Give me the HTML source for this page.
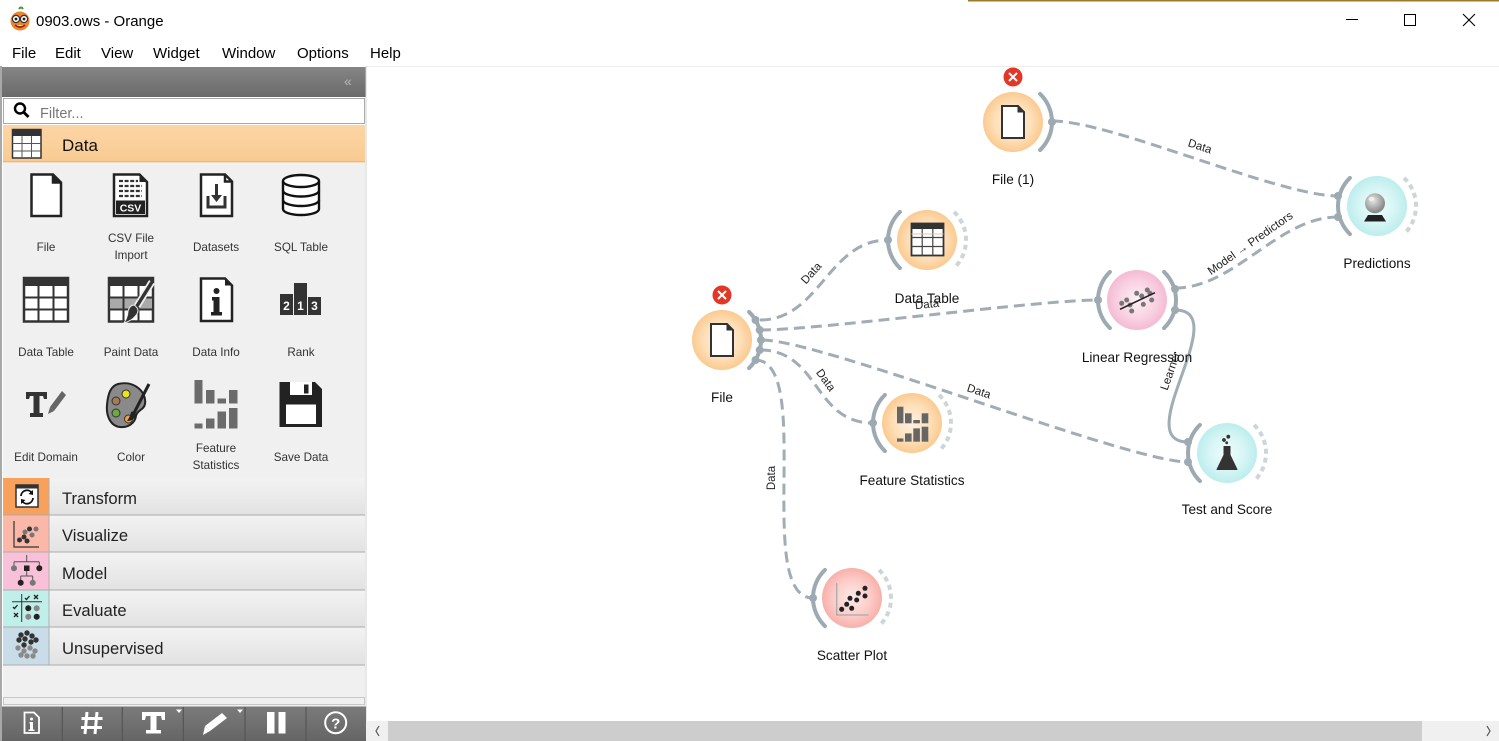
<!DOCTYPE html>
<html><head><meta charset="utf-8">
<style>
html,body{margin:0;padding:0;background:#fff;}
body{width:1499px;height:741px;overflow:hidden;position:relative;font-family:"Liberation Sans",sans-serif;}
svg{position:absolute;left:0;top:0;}
</style></head><body>
<svg width="1499" height="741" viewBox="0 0 1499 741" xmlns="http://www.w3.org/2000/svg" font-family="Liberation Sans, sans-serif">
<defs>
<radialGradient id="gD" cx="50%" cy="50%" r="50%"><stop offset="0" stop-color="#fff1e0"/><stop offset="0.6" stop-color="#fee0ba"/><stop offset="1" stop-color="#fbca90"/></radialGradient>
<radialGradient id="gV" cx="50%" cy="50%" r="50%"><stop offset="0" stop-color="#fdeae8"/><stop offset="0.6" stop-color="#fccdc9"/><stop offset="1" stop-color="#f8b0aa"/></radialGradient>
<radialGradient id="gM" cx="50%" cy="50%" r="50%"><stop offset="0" stop-color="#fdf0f6"/><stop offset="0.6" stop-color="#f9d3e3"/><stop offset="1" stop-color="#f4bbd3"/></radialGradient>
<radialGradient id="gE" cx="50%" cy="50%" r="50%"><stop offset="0" stop-color="#f1fcfc"/><stop offset="0.6" stop-color="#d6f5f5"/><stop offset="1" stop-color="#bdeded"/></radialGradient>
<radialGradient id="gBall" cx="40%" cy="35%" r="60%"><stop offset="0" stop-color="#e8e8e8"/><stop offset="1" stop-color="#8a8a8a"/></radialGradient>
<linearGradient id="gHead" x1="0" y1="0" x2="0" y2="1"><stop offset="0" stop-color="#858585"/><stop offset="1" stop-color="#6a6a6a"/></linearGradient>
<linearGradient id="gRow" x1="0" y1="0" x2="0" y2="1"><stop offset="0" stop-color="#f3f3f3"/><stop offset="1" stop-color="#e2e2e2"/></linearGradient>
<linearGradient id="gTool" x1="0" y1="0" x2="0" y2="1"><stop offset="0" stop-color="#7b7b7b"/><stop offset="1" stop-color="#656565"/></linearGradient>
<linearGradient id="gData" x1="0" y1="0" x2="0" y2="1"><stop offset="0" stop-color="#fdd5a4"/><stop offset="1" stop-color="#f9cb93"/></linearGradient>
</defs>

<!-- title bar -->
<rect x="0" y="0" width="1499" height="66" fill="#fff"/>
<rect x="968" y="0" width="531" height="1.5" fill="#9c7a2a"/>
<g>
<path d="M19,9 q2,-3 4,0" stroke="#3a9a3a" stroke-width="2" fill="none"/>
<circle cx="20" cy="21" r="9.5" fill="#f0842a"/>
<circle cx="16" cy="19" r="3.6" fill="#fff" stroke="#333" stroke-width="1.2"/>
<circle cx="24" cy="19" r="3.6" fill="#fff" stroke="#333" stroke-width="1.2"/>
<circle cx="16" cy="19" r="1.4" fill="#222"/><circle cx="24" cy="19" r="1.4" fill="#222"/>
<path d="M15,25 q5,4 10,0" stroke="#8a2a10" stroke-width="1.6" fill="#fff"/>
</g>
<text x="36" y="26" font-size="15" fill="#000">0903.ows - Orange</text>
<line x1="1346" y1="19.5" x2="1358" y2="19.5" stroke="#000" stroke-width="1"/>
<rect x="1404.5" y="14.5" width="11" height="11" fill="none" stroke="#000" stroke-width="1"/>
<path d="M1463,14 L1475,26 M1475,14 L1463,26" stroke="#000" stroke-width="1.1"/>
<g font-size="15" fill="#000">
<text x="12" y="58">File</text><text x="55" y="58">Edit</text><text x="101" y="58">View</text><text x="153" y="58">Widget</text><text x="222" y="58">Window</text><text x="297" y="58">Options</text><text x="370" y="58">Help</text>
</g>
<rect x="366" y="66" width="1133" height="1" fill="#ececec"/>

<!-- left panel -->
<rect x="0" y="66" width="2" height="675" fill="#a8a8a8"/>
<rect x="2" y="67" width="364" height="30" fill="url(#gHead)"/>
<text x="344" y="86" font-size="14" fill="#b8b8b8">«</text>
<rect x="3.5" y="98.5" width="361" height="25" fill="#fff" stroke="#a9a9a9" stroke-width="1"/>
<circle cx="20" cy="108.5" r="5" fill="none" stroke="#000" stroke-width="2.4"/>
<line x1="23.5" y1="112" x2="28.5" y2="117" stroke="#000" stroke-width="2.8"/>
<text x="40" y="118" font-size="14.5" fill="#777">Filter...</text>
<rect x="3" y="125" width="362" height="37" fill="url(#gData)"/>
<rect x="3" y="161" width="362" height="1.5" fill="#e6b886"/>
<g>
<rect x="12.5" y="129.5" width="28.5" height="28.5" fill="#fff" stroke="#333" stroke-width="1.5"/>
<rect x="12" y="129" width="29.5" height="7" fill="#333"/>
<path d="M22,136 V158 M31.5,136 V158 M12.5,143.5 H41 M12.5,151 H41" stroke="#555" stroke-width="1"/>
</g>
<text x="62" y="151" font-size="17" fill="#111">Data</text>
<rect x="3" y="163" width="362" height="315" fill="#f0f0f0"/>

<!-- panel widgets row 1 -->
<g stroke="#222" stroke-width="2.5" fill="#fff" stroke-linejoin="miter">
<path d="M31.5,174.5 H53 L61,182.5 V216 H31.5 Z"/>
<path d="M53,174.5 V182.5 H61" fill="none"/>
<path d="M114,174.5 H139.5 L147,182 V216 H114 Z"/>
<path d="M201,174.5 H225 L232,181.5 V216 H201 Z"/>
<path d="M225,174.5 V181.5 H232" fill="none"/>
</g>
<path d="M53,174.5 L61,182.5 L53,182.5Z" fill="#222"/>
<path d="M139.5,174.5 L147,182 L139.5,182Z" fill="#222"/>
<g stroke="#333" stroke-width="2.3" stroke-dasharray="4 1.6">
<line x1="119" y1="181" x2="138" y2="181"/><line x1="119" y1="186" x2="142" y2="186"/><line x1="119" y1="191" x2="142" y2="191"/><line x1="119" y1="196" x2="142" y2="196"/>
</g>
<rect x="116" y="200.5" width="29" height="13.5" fill="#222"/>
<text x="130.5" y="211.5" font-size="10.5" font-weight="bold" fill="#fff" text-anchor="middle">CSV</text>
<path d="M208,196 V207 H225 V196" stroke="#333" stroke-width="3" fill="none"/>
<line x1="216.5" y1="184" x2="216.5" y2="197" stroke="#333" stroke-width="3"/>
<path d="M211,195 H222 L216.5,202 Z" fill="#333"/>
<g stroke="#111" stroke-width="2.4" fill="#fff">
<path d="M283,181 V209 A18,6 0 0 0 319,209 V181"/>
<ellipse cx="301" cy="181" rx="18" ry="6"/>
<path d="M283,190.5 A18,6 0 0 0 319,190.5 M283,200 A18,6 0 0 0 319,200" fill="none"/>
</g>
<g font-size="11.7" fill="#333" text-anchor="middle">
<text x="46" y="251">File</text>
<text x="131" y="242">CSV File</text><text x="131" y="259">Import</text>
<text x="216" y="251">Datasets</text>
<text x="301" y="251">SQL Table</text>
<text x="46" y="356">Data Table</text>
<text x="131" y="356">Paint Data</text>
<text x="216" y="356">Data Info</text>
<text x="301" y="356">Rank</text>
<text x="46" y="461">Edit Domain</text>
<text x="131" y="461">Color</text>
<text x="216" y="452">Feature</text><text x="216" y="469">Statistics</text>
<text x="301" y="461">Save Data</text>
</g>
<!-- row 2 -->
<g>
<rect x="24" y="278" width="44" height="43.5" fill="#fff" stroke="#333" stroke-width="2.5"/>
<rect x="23" y="277" width="46" height="9" fill="#333"/>
<path d="M38.5,285 V321 M53.5,285 V321 M24,297.5 H68 M24,309.5 H68" stroke="#333" stroke-width="2"/>
<rect x="109" y="278" width="44" height="43.5" fill="#fff" stroke="#333" stroke-width="2.5"/>
<rect x="108" y="277" width="46" height="9" fill="#333"/>
<rect x="110" y="298" width="42" height="11" fill="#aaa"/>
<path d="M123.5,285 V321 M138.5,285 V321 M109,297.5 H153 M109,309.5 H153" stroke="#333" stroke-width="2"/>
<line x1="152" y1="282" x2="137" y2="306" stroke="#f0f0f0" stroke-width="7"/>
<line x1="152" y1="282" x2="137" y2="306" stroke="#333" stroke-width="3.5" stroke-linecap="round"/>
<path d="M134,305 Q140,309 137,314 Q132,321 124,323 Q128,317 128,311 Q130,305 134,305Z" fill="#333" stroke="#f0f0f0" stroke-width="1"/>
<path d="M201,278.5 H225 L232,285.5 V321 H201 Z" fill="#fff" stroke="#222" stroke-width="2.5"/>
<path d="M225,278.5 L232,285.5 L225,285.5Z" fill="#222"/>
<circle cx="216.5" cy="291" r="3" fill="#222"/>
<path d="M212,297 H219.5 V312 H222 V315.5 H211 V312 H213.5 V300.5 H212 Z" fill="#222"/>
<rect x="280" y="294" width="13" height="21" fill="#333"/>
<rect x="294" y="283" width="13" height="32" fill="#333"/>
<rect x="308" y="297" width="13" height="18" fill="#333"/>
<g font-size="12" font-weight="bold" fill="#fff" text-anchor="middle">
<text x="286.5" y="310">2</text><text x="300.5" y="310">1</text><text x="314.5" y="310">3</text>
</g>
</g>
<!-- row 3 -->
<g>
<path d="M26,392 H47 V399 H44 L43,396 H39.5 V413 H43 V417 H30 V413 H33.5 V396 H30 L29,399 H26 Z" fill="#333"/>
<path d="M62,391 L66,395 L54,411 L50,407 Z" fill="#666"/>
<path d="M50,407 L54,411 L48,414 Z" fill="#666"/>
<path d="M118,384 C134,380 147,392 145,404 C144,410 137,410 136,416 C135,423 128,428 120,427 C110,426 106,415 107,405 C108,393 111,386 118,384Z" fill="#8a8a8a" stroke="#222" stroke-width="2"/>
<circle cx="126" cy="394" r="4" fill="#eee21a" stroke="#333" stroke-width="1"/>
<circle cx="116" cy="401" r="4" fill="#a57a55" stroke="#333" stroke-width="1"/>
<circle cx="116" cy="413" r="4" fill="#6aaa44" stroke="#333" stroke-width="1"/>
<circle cx="128.5" cy="419" r="4" fill="#f4a23a" stroke="#333" stroke-width="1"/>
<line x1="149" y1="384" x2="134" y2="413" stroke="#222" stroke-width="3"/>
<path d="M131,412 Q136,410 136,416 Q133,421 127,421 Q130,417 131,412Z" fill="#222"/>
<g fill="#6b6b6b">
<rect x="194.5" y="380" width="8" height="23.5"/><rect x="206" y="390" width="8.5" height="13.5"/><rect x="217.5" y="398.5" width="8.5" height="5"/><rect x="229" y="390" width="8.5" height="13.5"/>
<rect x="194.5" y="423.5" width="8" height="5"/><rect x="206" y="418.5" width="8.5" height="10"/><rect x="217.5" y="411.5" width="8.5" height="17"/><rect x="229" y="408" width="8.5" height="20.5"/>
</g>
<path d="M279.5,382 H315 L322,389 V427 H279.5 Z" fill="#222"/>
<rect x="290" y="382" width="22" height="13" fill="#fff"/>
<rect x="304" y="384.5" width="4.5" height="9" fill="#222"/>
<rect x="286" y="404.5" width="30" height="19.5" fill="#fff"/>
</g>

<!-- categories -->
<g>
<rect x="3" y="478" width="46" height="37" fill="#f7a15c"/>
<rect x="49" y="478" width="316" height="37" fill="url(#gRow)"/>
<rect x="3" y="515" width="46" height="37" fill="#fbb8a8"/>
<rect x="49" y="515" width="316" height="37" fill="url(#gRow)"/>
<rect x="3" y="552" width="46" height="38" fill="#f8c1d9"/>
<rect x="49" y="552" width="316" height="38" fill="url(#gRow)"/>
<rect x="3" y="590" width="46" height="37" fill="#c0efea"/>
<rect x="49" y="590" width="316" height="37" fill="url(#gRow)"/>
<rect x="3" y="627" width="46" height="38" fill="#c9dde9"/>
<rect x="49" y="627" width="316" height="38" fill="url(#gRow)"/>
<path d="M3,515 H365 M3,552 H365 M3,590 H365 M3,627 H365 M3,665 H365" stroke="#ababab" stroke-width="1"/>
<path d="M49,478 V665" stroke="#b0b0b0" stroke-width="1"/>
<g font-size="16.6" fill="#222">
<text x="62" y="504">Transform</text><text x="62" y="541">Visualize</text><text x="62" y="579">Model</text><text x="62" y="616">Evaluate</text><text x="62" y="654">Unsupervised</text>
</g>
<!-- transform icon -->
<rect x="16" y="485" width="22" height="22" fill="#fff" stroke="#333" stroke-width="1.5"/>
<rect x="15.5" y="484.5" width="23" height="4" fill="#333"/>
<path d="M21,496 A6,6 0 0 1 32,493" stroke="#111" stroke-width="1.8" fill="none"/>
<path d="M33,490 L33,495 L28.5,494Z" fill="#111"/>
<path d="M33,498 A6,6 0 0 1 22,501" stroke="#111" stroke-width="1.8" fill="none"/>
<path d="M21,504 L21,499 L25.5,500Z" fill="#111"/>
<!-- visualize icon -->
<path d="M14,521 V547 H39" stroke="#333" stroke-width="1.2" fill="none"/>
<g fill="#333"><circle cx="19.5" cy="540" r="2.5"/><circle cx="24" cy="537" r="2.5"/><circle cx="27" cy="541" r="2.5"/><circle cx="29.5" cy="529" r="2.5"/></g>
<g fill="#777"><circle cx="32" cy="535" r="2.5"/><circle cx="36" cy="529" r="2.5"/><circle cx="25" cy="532" r="2.5"/></g>
<!-- model icon -->
<path d="M26.7,555 V561.7 M14,561.7 H39.3 M14,561.7 V566 M39.3,561.7 V566 M26.7,568 V576 M20.7,576 H32.7 M20.7,576 V580 M32.7,576 V580" stroke="#555" stroke-width="1"/>
<circle cx="14" cy="568.3" r="3" fill="#777"/><rect x="24" y="565.5" width="5.5" height="5.5" fill="#222"/><circle cx="39.3" cy="568.3" r="3" fill="#222"/>
<circle cx="20.7" cy="582.7" r="3" fill="#222"/><circle cx="32.7" cy="582.7" r="3" fill="#777"/>
<!-- evaluate icon -->
<path d="M21.7,594 V622 M12,601.7 H42" stroke="#333" stroke-width="1"/>
<path d="M25,598 l1.5,1.5 l3,-3.5" stroke="#222" stroke-width="1.3" fill="none"/>
<path d="M34,595 l4,4 M38,595 l-4,4" stroke="#222" stroke-width="1.3"/>
<path d="M13,607 l1.5,1.5 l3,-3.5" stroke="#222" stroke-width="1.3" fill="none"/>
<path d="M14,613 l4,4 M18,613 l-4,4" stroke="#222" stroke-width="1.3"/>
<circle cx="28.3" cy="608.3" r="3" fill="#222"/><circle cx="36.7" cy="608.3" r="3" fill="#888"/><circle cx="28.3" cy="616.7" r="3" fill="#888"/><circle cx="36.7" cy="616.7" r="3" fill="#222"/>
<!-- unsupervised icon -->
<g fill="#333"><circle cx="21" cy="635" r="2.7"/><circle cx="27" cy="633" r="2.7"/><circle cx="32" cy="636" r="2.7"/><circle cx="19" cy="640" r="2.7"/><circle cx="25" cy="639" r="2.7"/><circle cx="31" cy="642" r="2.7"/><circle cx="36" cy="640" r="2.7"/><circle cx="24" cy="645" r="2.7"/></g>
<g fill="#8a8a8a"><circle cx="18" cy="648" r="2.7"/><circle cx="24" cy="651" r="2.7"/><circle cx="30" cy="648" r="2.7"/><circle cx="35" cy="651" r="2.7"/><circle cx="21" cy="655" r="2.7"/><circle cx="27" cy="656" r="2.7"/><circle cx="33" cy="656" r="2.7"/></g>
</g>
<rect x="3" y="665.5" width="362" height="41" fill="#f0f0f0"/>
<rect x="3.5" y="697.5" width="361" height="7" fill="#f0f0f0" stroke="#c8c8c8" stroke-width="1"/>
<rect x="365.5" y="66" width="1" height="656" fill="#d0d0d0"/>

<!-- bottom toolbar -->
<rect x="2" y="706.5" width="364" height="34.5" fill="url(#gTool)"/>
<path d="M62.3,707 V741 M122.3,707 V741 M183.3,707 V741 M245,707 V741 M306,707 V741" stroke="#555" stroke-width="1.2"/>
<g fill="#fff" stroke="#fff">
<path d="M24.5,712.5 H34 L39,717.5 V733 H24.5 Z" fill="none" stroke-width="1.8"/>
<circle cx="31.5" cy="719" r="1.5" stroke="none"/>
<path d="M29.5,722 H33 V729.5 H34.5 V731 H28.5 V729.5 H30 V723.5 H29.5Z" stroke="none"/>
<path d="M87,712 L85,734 M97,712 L95,734 M81.5,718.5 H102.5 M81,727.5 H102" fill="none" stroke-width="3"/>
<path d="M142,712 H165 V720 H162 L161,716 H156.5 V730 H161 V733.5 H146 V730 H150.5 V716 H146 L145,720 H142 Z" stroke="none"/>
<path d="M176,709.5 H182 L179,713Z" stroke="none"/>
<path d="M222,713 L227,718 L210,731 L205,726 Z" stroke="none"/>
<path d="M205,726 L210,731 L203,735 Z" stroke="none"/>
<path d="M237,709.5 H243 L240,713Z" stroke="none"/>
<rect x="267" y="712" width="7.5" height="21.5" stroke="none"/><rect x="278.5" y="712" width="7" height="21.5" stroke="none"/>
<circle cx="335.7" cy="722.7" r="10.5" fill="none" stroke-width="2"/>
</g>
<text x="335.7" y="728.5" font-size="15" font-weight="bold" fill="#fff" text-anchor="middle">?</text>

<!-- canvas scrollbar -->
<rect x="366" y="721" width="1133" height="20" fill="#f0f0f0"/>
<rect x="388" y="721" width="1034" height="20" fill="#cdcdcd"/>
<path d="M379,726 L376,731 L379,736" stroke="#555" stroke-width="1.2" fill="none"/>
<path d="M1487,726 L1490,731 L1487,736" stroke="#555" stroke-width="1.2" fill="none"/>

<!-- links -->
<g fill="none" stroke="#a0adb5" stroke-width="3" stroke-dasharray="11 6">
<path d="M760,320 C820,320 828,240 888,240"/>
<path d="M760,330 C820,330 1038,300 1098,300"/>
<path d="M762,340 C822,340 1128,462 1188,462"/>
<path d="M760,350 C820,350 813,423 873,423"/>
<path d="M755,360 C815,360 753,598 813,598"/>
<path d="M1052,121 C1112,121 1278,196 1338,196"/>
<path d="M1175,288 C1235,288 1278,217 1338,217"/>
</g>
<path d="M1175,310 C1235,310 1128,442 1188,442" fill="none" stroke="#a0adb5" stroke-width="3"/>

<!-- nodes: circles -->
<circle cx="722" cy="340" r="30" fill="url(#gD)"/>
<circle cx="1013" cy="122" r="30" fill="url(#gD)"/>
<circle cx="927" cy="240" r="30" fill="url(#gD)"/>
<circle cx="912" cy="423" r="30" fill="url(#gD)"/>
<circle cx="852" cy="598" r="30" fill="url(#gV)"/>
<circle cx="1137" cy="300" r="30" fill="url(#gM)"/>
<circle cx="1227" cy="453" r="30" fill="url(#gE)"/>
<circle cx="1377" cy="206" r="30" fill="url(#gE)"/>

<!-- solid anchor arcs -->
<g fill="none" stroke="#9daab2" stroke-width="4" stroke-linecap="round">
<path d="M749.1,311.95 A39,39 0 0 1 749.1,368.05"/>
<path d="M1040.1,93.95 A39,39 0 0 1 1040.1,150.05"/>
<path d="M899.9,211.95 A39,39 0 0 0 899.9,268.05"/>
<path d="M884.9,394.95 A39,39 0 0 0 884.9,451.05"/>
<path d="M824.9,569.95 A39,39 0 0 0 824.9,626.05"/>
<path d="M1109.9,271.95 A39,39 0 0 0 1109.9,328.05"/>
<path d="M1164.1,271.95 A39,39 0 0 1 1164.1,328.05"/>
<path d="M1199.9,424.95 A39,39 0 0 0 1199.9,481.05"/>
<path d="M1349.9,177.95 A39,39 0 0 0 1349.9,234.05"/>
</g>
<!-- dashed unconnected arcs -->
<g fill="none" stroke="#ced5d8" stroke-width="4" stroke-dasharray="5 4">
<path d="M954.1,211.95 A39,39 0 0 1 954.1,268.05"/>
<path d="M939.1,394.95 A39,39 0 0 1 939.1,451.05"/>
<path d="M879.1,569.95 A39,39 0 0 1 879.1,626.05"/>
<path d="M1254.1,424.95 A39,39 0 0 1 1254.1,481.05"/>
<path d="M1404.1,177.95 A39,39 0 0 1 1404.1,234.05"/>
</g>
<!-- anchor dots -->
<g fill="#9daab2">
<circle cx="755.5" cy="320" r="4"/><circle cx="759.7" cy="330" r="4"/><circle cx="761" cy="340" r="4"/><circle cx="759.7" cy="350" r="4"/><circle cx="755.5" cy="360" r="4"/>
<circle cx="1052" cy="122" r="4"/>
<circle cx="888" cy="240" r="4"/><circle cx="873" cy="423" r="4"/><circle cx="813" cy="598" r="4"/>
<circle cx="1098" cy="300" r="4"/><circle cx="1175" cy="289" r="4"/><circle cx="1175" cy="310" r="4"/>
<circle cx="1188" cy="442" r="4"/><circle cx="1188" cy="462" r="4"/>
<circle cx="1338" cy="196" r="4"/><circle cx="1338" cy="217" r="4"/>
</g>

<!-- node icons -->
<!-- File -->
<path d="M711,324 H727 L733,330 V356 H711 Z" fill="#fff" stroke="#333" stroke-width="2"/>
<path d="M727,324 L733,330 L727,330 Z" fill="#333" stroke="#333" stroke-width="1"/>
<!-- File (1) -->
<path d="M1002,106 H1018 L1024,112 V138 H1002 Z" fill="#fff" stroke="#333" stroke-width="2"/>
<path d="M1018,106 L1024,112 L1018,112 Z" fill="#333" stroke="#333" stroke-width="1"/>
<!-- Data table -->
<rect x="911.5" y="223.5" width="32" height="32" fill="#fff" stroke="#333" stroke-width="1.8"/>
<rect x="911" y="223" width="33" height="6" fill="#333"/>
<path d="M922.2,229 V256 M932.8,229 V256 M911.5,237.5 H943.5 M911.5,246.5 H943.5" stroke="#444" stroke-width="1.2"/>
<path d="M911.5,234 H943.5" stroke="#d9c9b4" stroke-width="1"/>
<!-- Feature statistics -->
<g fill="#666">
<rect x="897" y="406.7" width="6.4" height="16.6"/><rect x="905" y="413.3" width="6.6" height="10"/><rect x="913.3" y="420" width="6.6" height="3.3"/><rect x="921.7" y="413.3" width="6.6" height="10"/>
<rect x="897" y="438.4" width="6.4" height="3.3"/><rect x="905" y="433.4" width="6.6" height="8.3"/><rect x="913.3" y="428.4" width="6.6" height="13.3"/><rect x="921.7" y="426.7" width="6.6" height="15"/>
</g>
<!-- Scatter plot -->
<path d="M836.7,583 V615 H868.5" stroke="#aaa" stroke-width="1.3" fill="none"/>
<g fill="#222"><circle cx="841.7" cy="609.3" r="2.5"/><circle cx="846.7" cy="604.3" r="2.5"/><circle cx="851.7" cy="608.3" r="2.5"/><circle cx="850" cy="598.3" r="2.5"/><circle cx="856.7" cy="600" r="2.5"/><circle cx="858.3" cy="593.3" r="2.5"/><circle cx="865" cy="596" r="2.5"/><circle cx="865" cy="588.3" r="2.5"/></g>
<!-- Linear regression -->
<g fill="#777"><circle cx="1121.7" cy="303.3" r="2.5"/><circle cx="1126.7" cy="300" r="2.5"/><circle cx="1130" cy="305" r="2.5"/><circle cx="1131.7" cy="311" r="2.5"/><circle cx="1136.7" cy="293.3" r="2.5"/><circle cx="1141.7" cy="296" r="2.5"/><circle cx="1143.3" cy="304.3" r="2.5"/><circle cx="1147.3" cy="290" r="2.5"/><circle cx="1150" cy="293.3" r="2.5"/><circle cx="1151.7" cy="300" r="2.5"/></g>
<line x1="1120" y1="309.3" x2="1155" y2="292.7" stroke="#222" stroke-width="1.6"/>
<!-- Test and Score flask -->
<path d="M1224,446.5 H1230 V455 L1237,469.5 H1217 L1224,455 Z" fill="#333" stroke="#333" stroke-width="1" stroke-linejoin="round"/>
<g fill="#333"><circle cx="1224" cy="440" r="1.9"/><circle cx="1228.3" cy="436.7" r="1.9"/><circle cx="1226.7" cy="442.8" r="1.4"/></g>
<!-- Predictions ball -->
<circle cx="1375" cy="203.3" r="10" fill="url(#gBall)"/>
<path d="M1368,215 H1382 L1386,221.5 H1364 Z" fill="#222"/>
<ellipse cx="1371.5" cy="199" rx="3" ry="2" fill="#f6f6f6" opacity="0.8"/>

<!-- red badges -->
<g>
<circle cx="722" cy="295" r="9.5" fill="#e23726"/>
<path d="M718,291 L726,299 M726,291 L718,299" stroke="#fff" stroke-width="2"/>
<circle cx="1013" cy="77" r="9.5" fill="#e23726"/>
<path d="M1009,73 L1017,81 M1017,73 L1009,81" stroke="#fff" stroke-width="2"/>
</g>

<!-- node labels -->
<g font-size="13.6" fill="#111" text-anchor="middle">
<text x="722" y="402">File</text>
<text x="1013" y="184">File (1)</text>
<text x="927" y="303">Data Table</text>
<text x="912" y="485">Feature Statistics</text>
<text x="852" y="660">Scatter Plot</text>
<text x="1137" y="362">Linear Regression</text>
<text x="1227" y="514">Test and Score</text>
<text x="1377" y="268">Predictions</text>
</g>

<!-- link labels -->
<g font-size="11.5" fill="#222" text-anchor="middle">
<text transform="translate(811,273) rotate(-48)" y="4">Data</text>
<text transform="translate(927,304) rotate(-6)" y="4">Data</text>
<text transform="translate(979,391) rotate(18)" y="4">Data</text>
<text transform="translate(826,380) rotate(54)" y="4">Data</text>
<text transform="translate(771,478) rotate(-90)" y="4">Data</text>
<text transform="translate(1200,146) rotate(18)" y="4">Data</text>
<text transform="translate(1250,243) rotate(-35)" y="4">Model → Predictors</text>
<text transform="translate(1170,371) rotate(-71)" y="4">Learner</text>
</g>
</svg>
</body></html>
